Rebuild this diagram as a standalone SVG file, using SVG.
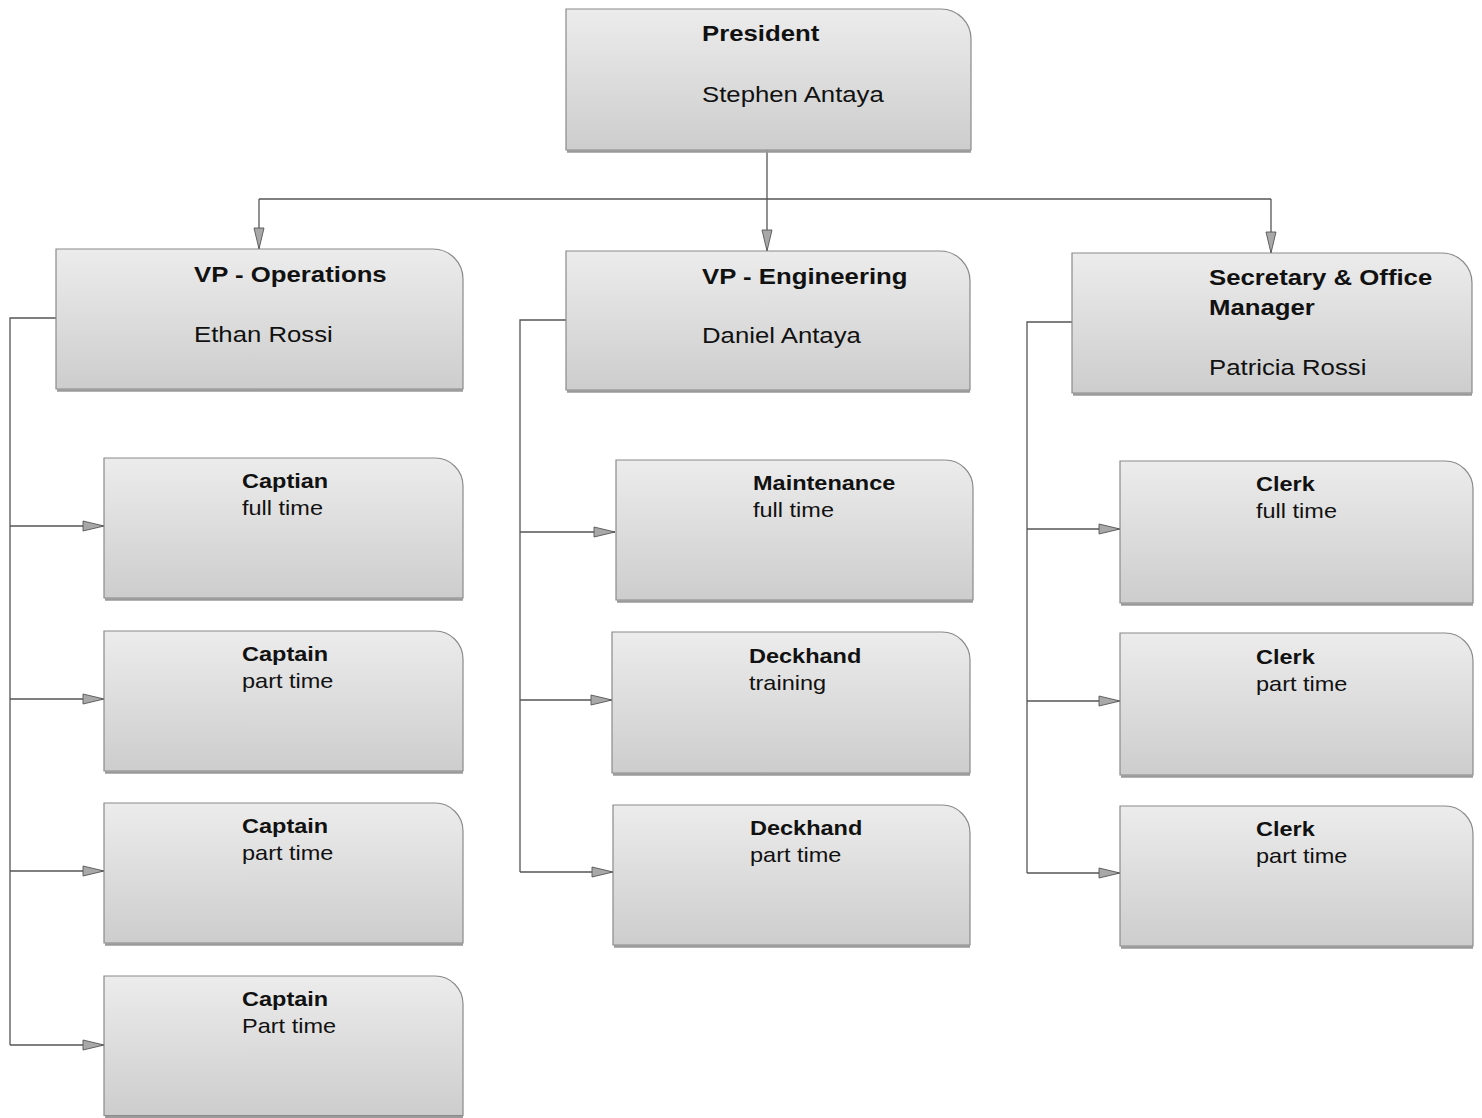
<svg xmlns="http://www.w3.org/2000/svg" width="1482" height="1118" viewBox="0 0 1482 1118">
<defs>
<linearGradient id="g" x1="0" y1="0" x2="0" y2="1">
<stop offset="0" stop-color="#ececec"/>
<stop offset="1" stop-color="#cdcdcd"/>
</linearGradient>
<marker id="arr" markerUnits="userSpaceOnUse" markerWidth="24" markerHeight="14" refX="22" refY="6" orient="auto">
<path d="M1,1 L22,6 L1,11 Z" fill="#a8a8a8" stroke="#555" stroke-width="0.9"/>
</marker>
<style>
.box{fill:url(#g);stroke:#8a8a8a;stroke-width:1.2}
.sh{fill:none;stroke:#9a9a9a;stroke-width:2.5}
.t{font-family:"Liberation Sans",Arial,sans-serif;fill:#111}
.b23{font-size:23px;font-weight:bold}
.r23{font-size:23px}
.b21{font-size:21px;font-weight:bold}
.r21{font-size:21px}
.c{fill:none;stroke:#555;stroke-width:1.3}
.ca{fill:none;stroke:#555;stroke-width:1.3;marker-end:url(#arr)}
</style>
</defs>

<g id="connectors">
<path class="c" d="M767,150 V199"/>
<path class="c" d="M259,199 H1271"/>
<path class="ca" d="M259,199 V249"/>
<path class="ca" d="M767,199 V251"/>
<path class="ca" d="M1271,199 V253"/>

<path class="c" d="M56,318 H10 V1045"/>
<path class="ca" d="M10,526 H104"/>
<path class="ca" d="M10,699 H104"/>
<path class="ca" d="M10,871 H104"/>
<path class="ca" d="M10,1045 H104"/>

<path class="c" d="M566,320 H520 V872"/>
<path class="ca" d="M520,532 H615"/>
<path class="ca" d="M520,700 H612"/>
<path class="ca" d="M520,872 H613"/>

<path class="c" d="M1072,322 H1027 V873"/>
<path class="ca" d="M1027,529 H1120"/>
<path class="ca" d="M1027,701 H1120"/>
<path class="ca" d="M1027,873 H1120"/>
</g>

<g id="president">
<path class="sh" d="M567,151.5 H971"/>
<path class="box" d="M566,9 H941 A30,30 0 0 1 971,39 V150 H566 Z"/>
<text class="t b23" transform="translate(702,41) scale(1.12,1)">President</text>
<text class="t r23" transform="translate(702,102) scale(1.12,1)">Stephen Antaya</text>
</g>

<g id="vp-operations">
<path class="sh" d="M57,390.5 H463"/>
<path class="box" d="M56,249 H433 A30,30 0 0 1 463,279 V389 H56 Z"/>
<text class="t b23" transform="translate(194,282) scale(1.12,1)">VP - Operations</text>
<text class="t r23" transform="translate(194,342) scale(1.12,1)">Ethan Rossi</text>
</g>

<g id="vp-engineering">
<path class="sh" d="M567,391.5 H970"/>
<path class="box" d="M566,251 H940 A30,30 0 0 1 970,281 V390 H566 Z"/>
<text class="t b23" transform="translate(702,284) scale(1.12,1)">VP - Engineering</text>
<text class="t r23" transform="translate(702,343) scale(1.12,1)">Daniel Antaya</text>
</g>

<g id="secretary">
<path class="sh" d="M1073,394.5 H1472"/>
<path class="box" d="M1072,253 H1442 A30,30 0 0 1 1472,283 V393 H1072 Z"/>
<text class="t b23" transform="translate(1209,285) scale(1.12,1)">Secretary &amp; Office</text>
<text class="t b23" transform="translate(1209,315) scale(1.12,1)">Manager</text>
<text class="t r23" transform="translate(1209,375) scale(1.12,1)">Patricia Rossi</text>
</g>

<g id="captain-1">
<path class="sh" d="M105,599.5 H463"/>
<path class="box" d="M104,458 H435 A28,28 0 0 1 463,486 V598 H104 Z"/>
<text class="t b21" transform="translate(242,488) scale(1.12,1)">Captian</text>
<text class="t r21" transform="translate(242,515) scale(1.12,1)">full time</text>
</g>

<g id="captain-2">
<path class="sh" d="M105,772.5 H463"/>
<path class="box" d="M104,631 H435 A28,28 0 0 1 463,659 V771 H104 Z"/>
<text class="t b21" transform="translate(242,661) scale(1.12,1)">Captain</text>
<text class="t r21" transform="translate(242,688) scale(1.12,1)">part time</text>
</g>

<g id="captain-3">
<path class="sh" d="M105,944.5 H463"/>
<path class="box" d="M104,803 H435 A28,28 0 0 1 463,831 V943 H104 Z"/>
<text class="t b21" transform="translate(242,833) scale(1.12,1)">Captain</text>
<text class="t r21" transform="translate(242,860) scale(1.12,1)">part time</text>
</g>

<g id="captain-4">
<path class="sh" d="M105,1117 H463"/>
<path class="box" d="M104,976 H435 A28,28 0 0 1 463,1004 V1115.5 H104 Z"/>
<text class="t b21" transform="translate(242,1006) scale(1.12,1)">Captain</text>
<text class="t r21" transform="translate(242,1033) scale(1.12,1)">Part time</text>
</g>

<g id="maintenance">
<path class="sh" d="M617,601.5 H973"/>
<path class="box" d="M616,460 H945 A28,28 0 0 1 973,488 V600 H616 Z"/>
<text class="t b21" transform="translate(753,490) scale(1.12,1)">Maintenance</text>
<text class="t r21" transform="translate(753,517) scale(1.12,1)">full time</text>
</g>

<g id="deckhand-1">
<path class="sh" d="M613,774.5 H970"/>
<path class="box" d="M612,632 H942 A28,28 0 0 1 970,660 V773 H612 Z"/>
<text class="t b21" transform="translate(749,663) scale(1.12,1)">Deckhand</text>
<text class="t r21" transform="translate(749,690) scale(1.12,1)">training</text>
</g>

<g id="deckhand-2">
<path class="sh" d="M614,946.5 H970"/>
<path class="box" d="M613,805 H942 A28,28 0 0 1 970,833 V945 H613 Z"/>
<text class="t b21" transform="translate(750,835) scale(1.12,1)">Deckhand</text>
<text class="t r21" transform="translate(750,862) scale(1.12,1)">part time</text>
</g>

<g id="clerk-1">
<path class="sh" d="M1121,604.5 H1473"/>
<path class="box" d="M1120,461 H1445 A28,28 0 0 1 1473,489 V603 H1120 Z"/>
<text class="t b21" transform="translate(1256,491) scale(1.12,1)">Clerk</text>
<text class="t r21" transform="translate(1256,518) scale(1.12,1)">full time</text>
</g>

<g id="clerk-2">
<path class="sh" d="M1121,776.5 H1473"/>
<path class="box" d="M1120,633 H1445 A28,28 0 0 1 1473,661 V775 H1120 Z"/>
<text class="t b21" transform="translate(1256,664) scale(1.12,1)">Clerk</text>
<text class="t r21" transform="translate(1256,691) scale(1.12,1)">part time</text>
</g>

<g id="clerk-3">
<path class="sh" d="M1121,947.5 H1473"/>
<path class="box" d="M1120,806 H1445 A28,28 0 0 1 1473,834 V946 H1120 Z"/>
<text class="t b21" transform="translate(1256,836) scale(1.12,1)">Clerk</text>
<text class="t r21" transform="translate(1256,863) scale(1.12,1)">part time</text>
</g>
</svg>
